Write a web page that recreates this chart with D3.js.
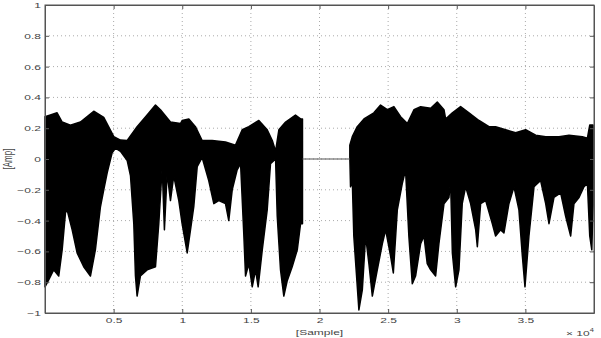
<!DOCTYPE html>
<html>
<head>
<meta charset="utf-8">
<script src="https://cdn.jsdelivr.net/npm/d3@7"></script>
<style>
  html, body { margin: 0; padding: 0; background: #fff; }
  svg { display: block; font-family: "Liberation Sans", Arial, sans-serif; }
</style>
</head>
<body>
<div id="chart"></div>
<script>
'use strict';

// tick values
const xTicks = [5000, 10000, 15000, 20000, 25000, 30000, 35000];
const xTickLabels = ['0.5', '1', '1.5', '2', '2.5', '3', '3.5'];
const yTicks = [-1, -0.8, -0.6, -0.4, -0.2, 0, 0.2, 0.4, 0.6, 0.8, 1];

// envelope of the waveform, [sample, amplitude]
const seg1Upper = [
  [0, 0.275], [394, 0.286], [880, 0.30], [1250, 0.24], [1850, 0.22], [2580, 0.24],
  [3550, 0.31], [4280, 0.27], [5010, 0.145], [5500, 0.123], [5990, 0.12], [6710, 0.21],
  [7440, 0.285], [8050, 0.35], [8410, 0.32], [9140, 0.24], [9870, 0.23], [9990, 0.25],
  [10480, 0.26], [10960, 0.21], [11450, 0.12], [12180, 0.12], [13150, 0.11], [13880, 0.09],
  [14370, 0.19], [14850, 0.21], [15580, 0.25], [16190, 0.19], [16560, 0.12], [16800, 0.05],
  [17040, 0.19], [17530, 0.24], [18250, 0.285], [18620, 0.26], [18760, 0.26]
];
const seg1Lower = [
  [0, -0.83], [270, -0.785], [630, -0.72], [1000, -0.76], [1250, -0.59], [1490, -0.35],
  [1610, -0.33], [1980, -0.46], [2340, -0.61], [2820, -0.70], [3310, -0.76], [3670, -0.59],
  [4040, -0.31], [4280, -0.2], [4530, -0.09], [4890, 0.04], [5130, 0.07], [5500, 0.05],
  [5990, -0.01], [6230, -0.11], [6470, -0.42], [6590, -0.76], [6710, -0.89], [6950, -0.76],
  [7440, -0.72], [8050, -0.70], [8290, -0.42], [8540, -0.05], [8700, -0.46], [8900, -0.09],
  [9140, -0.27], [9380, -0.11], [9750, -0.27], [9990, -0.42], [10360, -0.61], [10600, -0.46],
  [10840, -0.31], [11090, -0.05], [11450, 0.01], [11930, -0.14], [12300, -0.29], [12660, -0.27],
  [13150, -0.29], [13390, -0.40], [13640, -0.20], [14000, -0.07], [14250, -0.03], [14490, -0.50],
  [14610, -0.76], [14850, -0.68], [15100, -0.83], [15340, -0.72], [15530, -0.83], [15830, -0.59],
  [16190, -0.33], [16430, -0.03], [16800, 0], [16920, -0.37], [17160, -0.72], [17400, -0.89],
  [17650, -0.79], [18010, -0.70], [18380, -0.59], [18620, -0.42], [18760, -0.42]
];
const seg2Upper = [
  [22210, 0.09], [22390, 0.145], [22750, 0.21], [23240, 0.26], [23960, 0.30], [24450, 0.35],
  [24940, 0.32], [25420, 0.34], [25910, 0.275], [26400, 0.23], [26880, 0.32], [27370, 0.34],
  [28100, 0.33], [28580, 0.37], [29070, 0.32], [29190, 0.26], [29680, 0.30], [30280, 0.34],
  [30890, 0.30], [31620, 0.25], [32350, 0.21], [32830, 0.21], [33560, 0.19], [34290, 0.17],
  [35020, 0.19], [35750, 0.155], [36480, 0.145], [37450, 0.145], [38180, 0.155], [39150, 0.145],
  [39520, 0.135], [39690, 0.22], [39930, 0.22]
];
const seg2Lower = [
  [22210, 0.015], [22260, -0.18], [22390, -0.14], [22500, -0.50], [22700, -0.76], [22870, -0.98],
  [23120, -0.85], [23360, -0.50], [23600, -0.68], [23850, -0.89], [24210, -0.72], [24580, -0.55],
  [24820, -0.46], [25180, -0.63], [25380, -0.74], [25670, -0.33], [26030, -0.16], [26270, -0.07],
  [26510, -0.50], [26760, -0.81], [27000, -0.76], [27370, -0.55], [27610, -0.50], [27850, -0.68],
  [28100, -0.72], [28460, -0.76], [28700, -0.55], [29070, -0.29], [29430, -0.25], [29550, -0.14],
  [29680, -0.61], [29920, -0.83], [30160, -0.72], [30400, -0.29], [30650, -0.18], [31010, -0.29],
  [31380, -0.46], [31500, -0.57], [31740, -0.29], [32110, -0.27], [32590, -0.42], [32830, -0.50],
  [33200, -0.46], [33440, -0.48], [33800, -0.29], [34170, -0.18], [34530, -0.33], [34780, -0.63],
  [34970, -0.83], [35260, -0.50], [35630, -0.18], [36110, -0.14], [36480, -0.29], [36720, -0.42],
  [37080, -0.25], [37570, -0.22], [37930, -0.37], [38300, -0.50], [38540, -0.29], [38910, -0.25],
  [39270, -0.18], [39520, -0.16], [39690, -0.50], [39840, -0.59], [39930, -0.3]
];
// silent stretch between the two parts
const silence = [[18760, 0], [22210, 0]];

const W = 601, H = 338;
const margin = { top: 5, right: 7, bottom: 25, left: 45 };
const width = W - margin.left - margin.right,
      height = H - margin.top - margin.bottom;
// the source figure is stretched sideways, so its text is too
const sx = 1.5;

const svg = d3.select('#chart').append('svg')
    .attr('width', W)
    .attr('height', H);

const g = svg.append('g')
    .attr('transform', `translate(${margin.left}, ${margin.top})`);

const x = d3.scaleLinear().domain([0, 40000]).range([0, width]);
const y = d3.scaleLinear().domain([-1, 1]).range([height, 0]);

// dotted grid
g.append('g').selectAll('line')
    .data(xTicks)
  .enter().append('line')
    .attr('x1', d => x(d)).attr('x2', d => x(d))
    .attr('y1', 0).attr('y2', height)
    .attr('stroke', '#aaa')
    .attr('stroke-dasharray', '1,3');

g.append('g').selectAll('line')
    .data(yTicks.filter(d => d > -1 && d < 1))
  .enter().append('line')
    .attr('x1', 0).attr('x2', width)
    .attr('y1', d => y(d)).attr('y2', d => y(d))
    .attr('stroke', '#aaa')
    .attr('stroke-dasharray', '1,3');

// waveform body
const line = d3.line().x(d => x(d[0])).y(d => y(d[1]));

[[seg1Upper, seg1Lower], [seg2Upper, seg2Lower]].forEach(([up, lo]) => {
  const poly = up.concat(lo.slice().reverse());
  g.append('path')
      .attr('d', line(poly) + 'Z')
      .attr('fill', '#000')
      .attr('stroke', '#000')
      .attr('stroke-width', 1.5)
      .attr('stroke-linejoin', 'round');
});

g.append('path')
    .attr('d', line(silence))
    .attr('fill', 'none')
    .attr('stroke', '#555')
    .attr('stroke-width', 1.2);

// axes with inward ticks
const axisColor = '#555';
const xAxis = d3.axisBottom(x).tickValues(xTicks).tickFormat((d, i) => xTickLabels[i])
    .tickSizeInner(-4).tickSizeOuter(0).tickPadding(4);
const yAxis = d3.axisLeft(y).tickValues(yTicks).tickFormat(d3.format('~g'))
    .tickSizeInner(-4).tickSizeOuter(0).tickPadding(4);

g.append('g')
    .attr('transform', `translate(0, ${height})`)
    .call(xAxis);
g.append('g').call(yAxis);

g.append('g').call(d3.axisTop(x).tickValues(xTicks).tickFormat('').tickSizeInner(-4).tickSizeOuter(0));
g.append('g').attr('transform', `translate(${width}, 0)`)
    .call(d3.axisRight(y).tickValues(yTicks).tickFormat('').tickSizeInner(-4).tickSizeOuter(0));

g.selectAll('.domain').attr('stroke', axisColor);
g.selectAll('.tick line').attr('stroke', axisColor);
g.selectAll('.tick text')
    .attr('fill', '#444')
    .style('font-size', '8px')
    .style('font-family', '"Liberation Sans", Arial, sans-serif')
    .each(function() {
      const t = d3.select(this);
      t.attr('x', (+t.attr('x') || 0) / sx)
       .attr('transform', `scale(${sx}, 1)`);
    });

g.append('rect')
    .attr('width', width).attr('height', height)
    .attr('fill', 'none')
    .attr('stroke', axisColor);

// labels
svg.append('text')
    .attr('transform', `translate(${margin.left + width / 2}, 335) scale(${sx}, 1)`)
    .attr('text-anchor', 'middle')
    .attr('fill', '#444')
    .style('font-size', '8px')
    .text('[Sample]');

svg.append('text')
    .attr('transform', `translate(12, ${margin.top + y(0)}) scale(${sx}, 1) rotate(-90)`)
    .attr('text-anchor', 'middle')
    .attr('fill', '#444')
    .style('font-size', '8px')
    .text('[Amp]');

const exp = svg.append('text')
    .attr('transform', `translate(566, 336) scale(${sx}, 1)`)
    .attr('fill', '#444')
    .style('font-size', '8px');
exp.append('tspan').text('\u00d7 10');
exp.append('tspan').attr('dy', -4).style('font-size', '5px').text('4');
</script>
</body>
</html>
